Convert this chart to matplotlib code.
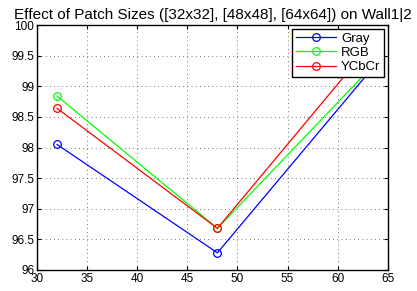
import matplotlib
matplotlib.use("Agg")
import matplotlib.pyplot as plt

plt.rcParams["font.family"] = ["Liberation Sans", "DejaVu Sans"]

# patch size (side length) and accuracy per colour space
patch = [32, 48, 64]
gray = [98.05, 96.28, 99.40]
rgb = [98.84, 96.68, 99.42]
ycbcr = [98.64, 96.68, 99.82]
yticks = [96, 96.5, 97, 97.5, 98, 98.5, 99, 99.5, 100]
yticklabels = ["96", "96.5", "97", "97.5", "98", "98.5", "99", "99.5", "100"]

fig = plt.figure(figsize=(4.17, 2.91), dpi=100)
ax = fig.add_axes([0.0887, 0.0722, 0.8413, 0.8418])

for vals, col, name in [(gray, "#0000ff", "Gray"), (rgb, "#00ff00", "RGB"), (ycbcr, "#ff0000", "YCbCr")]:
    ax.plot(patch, vals, color=col, lw=0.9, marker="o", ms=5.5, mfc="none", mec=col, mew=0.9, label=name)

ax.set_xlim(30, 65)
ax.set_ylim(96, 100)
ax.set_xticks(range(30, 66, 5))
ax.set_yticks(yticks)
ax.set_yticklabels(yticklabels)
ax.tick_params(direction="in", top=True, right=True, labelsize=8.5, length=3, pad=2)
ax.grid(True, color="black", linestyle=(0, (1, 5)), linewidth=0.5)
for s in ax.spines.values():
    s.set_linewidth(1.0)
ax.set_title("Effect of Patch Sizes ([32x32], [48x48], [64x64]) on Wall1|2", fontsize=11, pad=4)
leg = ax.legend(loc="upper right", fontsize=9.5, fancybox=False, framealpha=1, edgecolor="black",
                borderpad=0.3, handlelength=3.0, labelspacing=0.15, handletextpad=0.4,
                bbox_to_anchor=(0.99, 0.985), borderaxespad=0)
leg.get_frame().set_linewidth(1.0)

fig.savefig("out.png", dpi=100)
